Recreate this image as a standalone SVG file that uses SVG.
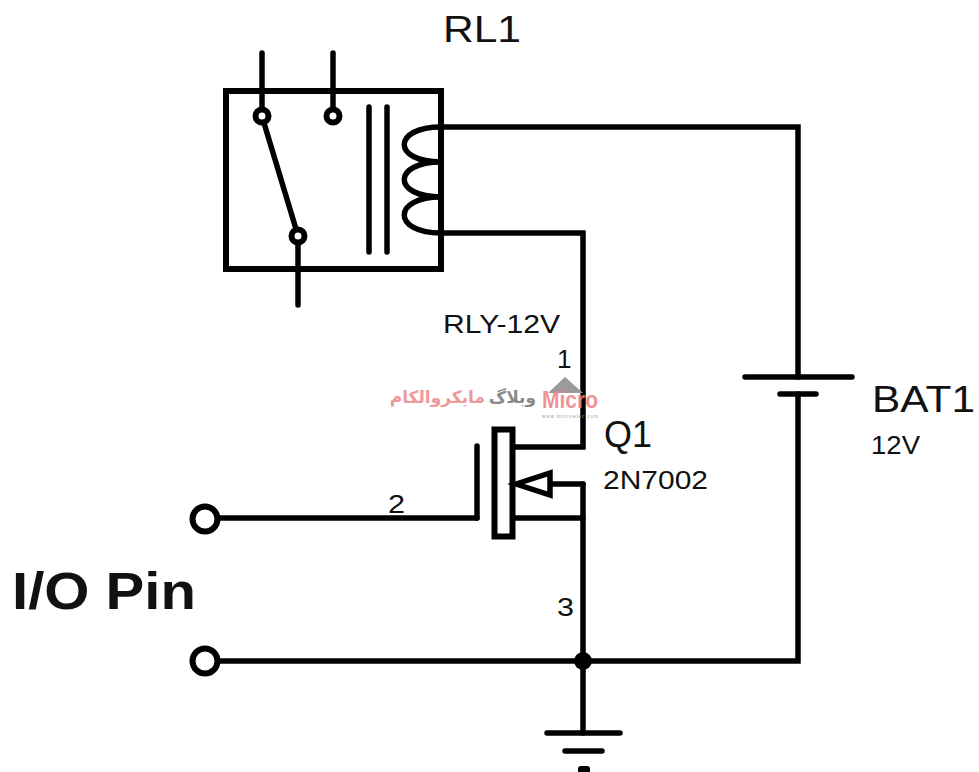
<svg xmlns="http://www.w3.org/2000/svg" width="979" height="772" viewBox="0 0 979 772">
<style>
.w{fill:none;stroke:#000;stroke-width:5.500;stroke-linecap:round;stroke-linejoin:miter}
.o{fill:#fff;stroke:#000;stroke-width:6}
text{font-family:"Liberation Sans",Arial,sans-serif;fill:#111}
.s{font-size:26px}
.l{font-size:36px}
.fa{font-family:"DejaVu Sans",sans-serif;font-weight:bold;font-size:17px;direction:rtl;text-anchor:start}
</style>
<rect width="979" height="772" fill="#fff"/>
<g id="connectors">
<path class="w" d="M441 127H798V377M798 394V661H205"/>
<path class="w" d="M441 233H583V447H515"/>
<path class="w" d="M515 518H583"/>
<path class="w" d="M583 484V733"/>
<path class="w" d="M217 518H477"/>
<circle cx="583" cy="661" r="9" fill="#000"/>
</g>
<g id="RL1">
<rect x="226" y="91" width="215" height="178" fill="none" stroke="#000" stroke-width="6"/>
<path class="w" d="M262 53V109M333 53V109M298 243V305M264 123L296 229M369 107V252M387 107V252"/>
<path class="w" d="M441 127C392 127 392 162 441 162C392 162 392 197 441 197C392 197 392 233 441 233"/>
<circle class="o" cx="262" cy="116" r="6.500"/>
<circle class="o" cx="333" cy="116" r="6.500"/>
<circle class="o" cx="298" cy="236" r="6.500"/>
<text class="l" x="443" y="42" textLength="78" lengthAdjust="spacingAndGlyphs">RL1</text>
<text class="s" x="443" y="333" textLength="117" lengthAdjust="spacingAndGlyphs">RLY-12V</text>
</g>
<g id="BAT1">
<path class="w" d="M745 377H852M780 394H816"/>
<text class="l" x="872" y="412" textLength="103" lengthAdjust="spacingAndGlyphs">BAT1</text>
<text class="s" x="871" y="454" textLength="49" lengthAdjust="spacingAndGlyphs">12V</text>
</g>
<g id="Q1">
<rect class="o" x="494.500" y="429.500" width="18" height="107"/>
<path class="w" d="M477 446V518"/>
<path class="w" d="M550 484H583"/>
<path class="w" d="M516 484L550 473V495Z" style="fill:#fff"/>
<text class="l" x="604" y="447" textLength="48" lengthAdjust="spacingAndGlyphs">Q1</text>
<text class="s" x="603" y="489" textLength="105" lengthAdjust="spacingAndGlyphs">2N7002</text>
<text class="s" x="557" y="368">1</text>
<text class="s" x="388" y="513" textLength="17" lengthAdjust="spacingAndGlyphs">2</text>
<text class="s" x="557" y="616" textLength="17" lengthAdjust="spacingAndGlyphs">3</text>
</g>
<g id="IO">
<circle class="o" cx="205" cy="519" r="12.500"/>
<circle class="o" cx="205" cy="661" r="12.500"/>
<text x="12" y="609" font-size="52" font-weight="bold" textLength="184" lengthAdjust="spacingAndGlyphs">I/O Pin</text>
</g>
<g id="GND">
<path class="w" d="M547 733H620M565 751H602"/>
<path d="M578 769Q578 766 581 766H587Q590 766 590 769V772H578Z" fill="#000"/>
</g>
<g id="watermark">
<path d="M548 393L565 377L583 393Z" fill="#9a9a9a"/>
<text x="542" y="408" font-size="23" font-weight="bold" textLength="56" lengthAdjust="spacingAndGlyphs" style="fill:#ec7f7f;fill-opacity:.85">Micro</text>
<text x="542" y="418" font-size="4.500" textLength="56" style="fill:#999">www.microelec.com</text>
<text class="fa" x="485" y="403" style="fill:#ee9a9a">مایکروالکام</text>
<text class="fa" x="536" y="403" style="fill:#8a8a8a">وبلاگ</text>
</g>
</svg>
